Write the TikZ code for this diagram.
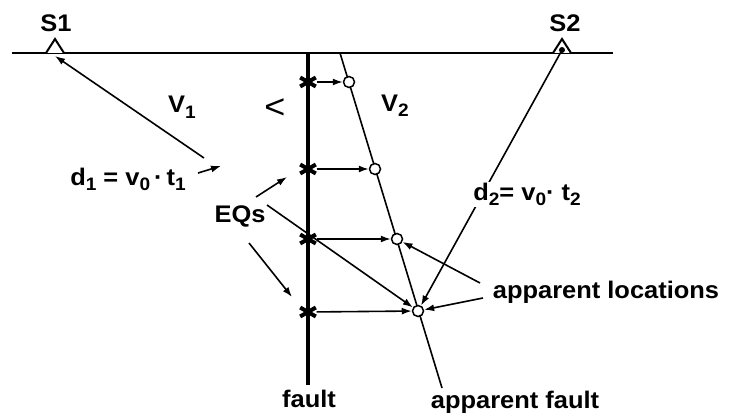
\documentclass[tikz,border=0pt]{standalone}
\usepackage{fontspec}
\setmainfont{Liberation Sans}[FakeStretch=1.06]
\usetikzlibrary{arrows.meta}
\newcommand{\lowidx}[1]{\raisebox{-5.5pt}{\fontsize{18}{18}\selectfont #1}}
\begin{document}
\begin{tikzpicture}[x=1pt,y=-1pt,
  lbl/.style={font=\fontsize{24}{24}\selectfont\bfseries, inner sep=0pt, anchor=base},
  arr/.style={line width=1.6pt,-{Latex[length=10pt,width=7pt]}},
  thinln/.style={line width=1.6pt},
  loc/.style={circle, draw, fill=white, line width=1.5pt, minimum size=11pt, inner sep=0pt},
  eqk/.style={circle, minimum size=17pt, inner sep=0pt},
  spoke/.style={line width=4pt},
]
\useasboundingbox (0,0) rectangle (730,417);
% surface, fault, apparent fault
\draw[line width=2.4pt] (12,53) -- (613,53);
\draw[line width=3.2pt] (308,53) -- (308,385);
\draw[thinln] (340,53) -- (442,388);
% stations
\draw[line width=2pt, fill=white, line join=miter] (46,53) -- (55,39) -- (64,53);
\draw[line width=2pt, fill=white, line join=miter] (553,53) -- (562,39) -- (571,53);
\coordinate (s1) at (55,56);
\coordinate (s2) at (562,50);
\fill (s2) circle (3);
% earthquakes
\node[eqk] (e1) at (308,82) {};
\node[eqk] (e2) at (308,169) {};
\node[eqk] (e3) at (308,239) {};
\node[eqk] (e4) at (308,312) {};
\foreach \e in {e1,e2,e3,e4}{
  \foreach \a in {90,30,150}{
    \draw[spoke, shift={(\e.center)}] (\a:9) -- (\a+180:9);
  }
}
% apparent locations
\node[loc] (c1) at (349,82) {};
\node[loc] (c2) at (375,169) {};
\node[loc] (c3) at (397,239) {};
\node[loc] (c4) at (418,311) {};
\draw[arr] (e1) -- (c1);
\draw[arr] (e2) -- (c2);
\draw[arr] (e3) -- (c3);
\draw[arr] (e4) -- (c4);
% ray paths
\coordinate (l1s) at (204,158);
\draw[arr] (l1s) -- (s1);
\draw[arr] (s2) -- (c4);
% labels
\node[lbl] (S1l) at (56,32) {S1};
\node[lbl] (S2l) at (565,32) {S2};
\node[lbl] (V1) at (182,113) {V\lowidx{1}};
\node[lbl] (V2) at (395,111) {V\lowidx{2}};
\node[font=\fontsize{34}{34}\selectfont, inner sep=0pt, anchor=base] (lt) at (275,118) {<};
\node[lbl] (d1) at (128,185) {d\lowidx{1} = v\lowidx{0}\,·\,t\lowidx{1}};
\node[lbl, fill=white, inner sep=1pt] (d2) at (527,200) {d\lowidx{2}= v\lowidx{0}· t\lowidx{2}};
\node[lbl] (eqs) at (240,222) {EQs};
\node[lbl] (apl) at (606,298) {apparent locations};
\node[lbl] (flt) at (309,407) {fault};
\node[lbl] (aflt) at (515,408) {apparent fault};
% pointer arrows
\coordinate (d1a) at (198,173); \coordinate (d1b) at (221,166);
\draw[arr] (d1a) -- (d1b);
\coordinate (q1s) at (256,197); \coordinate (q1e) at (287,177);
\draw[arr] (q1s) -- (q1e);
\coordinate (q2s) at (249,243); \coordinate (q2e) at (292,297);
\draw[arr] (q2s) -- (q2e);
\coordinate (q3s) at (267,205);
\draw[arr] (q3s) -- (c4);
\coordinate (p1s) at (480,283);
\draw[arr] (p1s) -- (c3);
\coordinate (p2s) at (483,298);
\draw[arr] (p2s) -- (c4);
\end{tikzpicture}
\end{document}
